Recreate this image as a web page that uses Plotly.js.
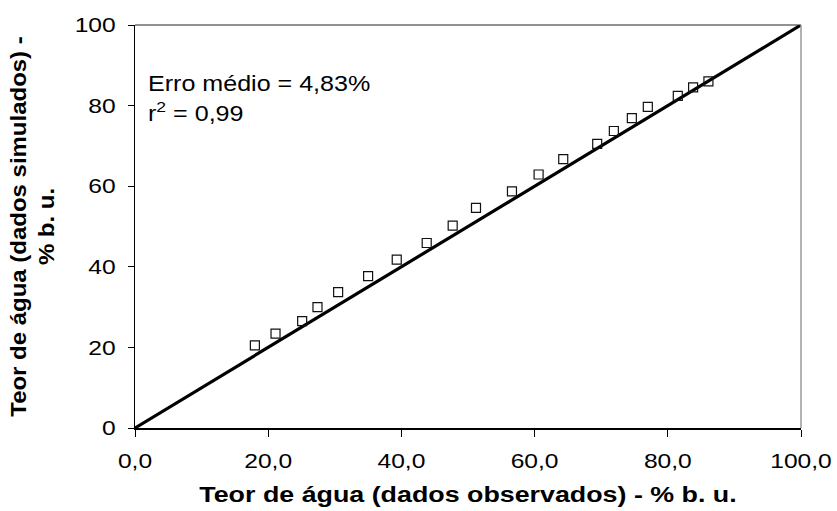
<!DOCTYPE html>
<html>
<head>
<meta charset="utf-8">
<script src="https://cdn.plot.ly/plotly-3.0.1.min.js"></script>
<style>html,body{margin:0;padding:0;background:#fff;}#chart{width:837px;height:511px;}</style>
</head>
<body>
<div id="chart"></div>
<script>
const observed = [18.0, 21.1, 25.1, 27.4, 30.5, 35.0, 39.3, 43.8, 47.7, 51.2, 56.6, 60.6, 64.3, 69.4, 71.9, 74.6, 77.0, 81.5, 83.8, 86.1];
const simulated = [20.5, 23.4, 26.5, 30.0, 33.7, 37.7, 41.8, 45.9, 50.2, 54.6, 58.7, 62.9, 66.7, 70.5, 73.7, 76.9, 79.7, 82.4, 84.5, 86.0];
const lineX = [0, 100];
const lineY = [0, 100];
const xTicks = [0, 20, 40, 60, 80, 100];
const yTicks = [0, 20, 40, 60, 80, 100];
const annLine1 = "Erro médio = 4,83%";
const annLine2 = "r<sup>2</sup> = 0,99";
const xTitle = "Teor de água (dados observados) - % b. u.";
const yTitle = "Teor de água (dados simulados) -<br>% b. u.";

const font = "Liberation Sans, Arial, sans-serif";
const traces = [
  {x: lineX, y: lineY, mode: 'lines', line: {color: '#000', width: 3.2}, showlegend: false, hoverinfo: 'skip'},
  {x: observed, y: simulated, mode: 'markers', marker: {symbol: 'square-open', size: 9, color: '#111', line: {width: 1.2, color: '#111'}}, showlegend: false}
];
const layout = {
  width: 837, height: 511,
  margin: {l: 135, r: 36, t: 25, b: 83},
  paper_bgcolor: '#fff', plot_bgcolor: '#fff',
  separators: ',.',
  font: {family: font, color: '#000', size: 20.5},
  xaxis: {
    range: [0, 100], tickvals: xTicks, tickformat: '.1f',
    showgrid: false, zeroline: false, automargin: false,
    showline: true, linecolor: '#000', linewidth: 1.5,
    ticks: 'outside', ticklen: 7, tickcolor: '#000', tickwidth: 1,
    ticklabelstandoff: 7,
    tickfont: {family: font, size: 20.5},
    title: {text: '<b>' + xTitle + '</b>', font: {family: font, size: 22}, standoff: 15}
  },
  yaxis: {
    range: [0, 100], tickvals: yTicks,
    showgrid: false, zeroline: false, automargin: false,
    showline: true, linecolor: '#000', linewidth: 1.2,
    ticks: 'outside', ticklen: 6, tickcolor: '#000', tickwidth: 1,
    ticklabelstandoff: 8,
    tickfont: {family: font, size: 20.5},
    title: {text: '<b>' + yTitle + '</b>', font: {family: font, size: 22}, standoff: 20}
  },
  shapes: [
    {type: 'line', xref: 'paper', yref: 'paper', x0: 0, x1: 1, y0: 1, y1: 1, line: {color: '#222', width: 1}},
    {type: 'line', xref: 'paper', yref: 'paper', x0: 1, x1: 1, y0: 0, y1: 1, line: {color: '#999', width: 1.5}}
  ],
  annotations: [
    {xref: 'paper', yref: 'paper', x: 0.016, y: 0.856, xanchor: 'left', yanchor: 'middle', align: 'left', showarrow: false,
     text: annLine1, font: {family: font, size: 22, color: '#000'}},
    {xref: 'paper', yref: 'paper', x: 0.016, y: 0.783, xanchor: 'left', yanchor: 'middle', align: 'left', showarrow: false,
     text: annLine2, font: {family: font, size: 22, color: '#000'}}
  ]
};

function stretch(sel, s) {
  document.querySelectorAll(sel).forEach(function (el) {
    const bb = el.getBBox();
    const anchor = el.getAttribute('text-anchor') || 'start';
    let ax = bb.x;
    if (anchor === 'middle') ax = bb.x + bb.width / 2;
    else if (anchor === 'end') ax = bb.x + bb.width;
    const t = el.getAttribute('transform') || '';
    el.setAttribute('transform', t + ' translate(' + ax + ',0) scale(' + s + ',1) translate(' + (-ax) + ',0)');
  });
}

Plotly.newPlot('chart', traces, layout, {displayModeBar: false, staticPlot: true}).then(function () {
  stretch('#chart .xtick text', 1.2);
  stretch('#chart .ytick text', 1.2);
  stretch('#chart .annotation-text', 1.14);
  stretch('#chart .g-xtitle text', 1.22);
  stretch('#chart .g-ytitle text', 1.09);
});
</script>
</body>
</html>
